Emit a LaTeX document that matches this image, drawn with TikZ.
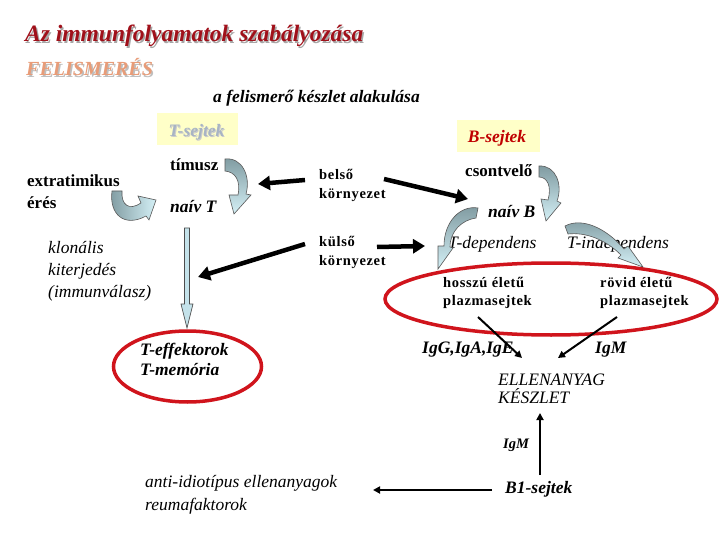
\documentclass[tikz,border=0pt]{standalone}
\usepackage{fontspec}
\setmainfont{Liberation Serif}
\usetikzlibrary{arrows.meta,shapes.geometric}
\definecolor{titlered}{HTML}{A0101A}
\definecolor{salmon}{HTML}{E89C78}
\definecolor{ellred}{HTML}{D0141C}
\definecolor{boxyel}{HTML}{FFFFC8}
\definecolor{tgrey}{HTML}{A8B4C4}
\definecolor{bred}{HTML}{C00000}
\definecolor{arrdark}{HTML}{7F9AA0}
\definecolor{arrlight}{HTML}{D4F0F6}
\definecolor{vblue}{HTML}{C4E2EA}
\begin{document}
\begin{tikzpicture}[x=1pt,y=-1pt,
  lbl/.style={inner sep=0pt, anchor=base west},
  bd/.style={lbl, font=\bfseries\fontsize{17}{20}\selectfont},
  bi/.style={lbl, font=\bfseries\itshape\fontsize{17.5}{20}\selectfont},
  itl/.style={lbl, font=\itshape\fontsize{17.5}{20}\selectfont},
  sp/.style={lbl, font=\addfontfeature{LetterSpace=4.5}\bfseries\fontsize{14.5}{17}\selectfont},
  fatarrow/.style={line width=4.5pt, -{Triangle[length=12pt,width=14pt]}},
  thinarrow/.style={line width=2pt, -{Triangle[length=7pt,width=7pt]}},
  ellipsebox/.style={ellipse, draw=ellred, line width=3.5pt, inner sep=0pt},
  curvy/.style={draw=black!65, line width=0.6pt, top color=arrdark, bottom color=arrlight},
  curvyh/.style={draw=black!65, line width=0.6pt, left color=arrdark, right color=arrlight},
  ybox/.style={fill=boxyel, inner sep=0pt},
]
\useasboundingbox (0,0) rectangle (720,540);
\fill[white] (0,0) rectangle (720,540);

% titles
\node[lbl, text=black!35, font=\bfseries\itshape\fontsize{23.5}{28}\selectfont] (titlesh) at (26.5,43.5) {Az immunfolyamatok szabályozása};
\node[lbl, text=titlered, font=\bfseries\itshape\fontsize{23.5}{28}\selectfont] (title) at (25,42) {Az immunfolyamatok szabályozása};
\node[lbl, text=black!25, font=\bfseries\itshape\fontsize{20}{24}\selectfont] (felsh) at (27.5,77.5) {FELISMERÉS};
\node[lbl, text=salmon, font=\bfseries\itshape\fontsize{20}{24}\selectfont] (fel) at (26,76) {FELISMERÉS};
\node[bi] (sub) at (213,103) {a felismerő készlet alakulása};

% boxes
\node[ybox, minimum width=81pt, minimum height=32pt] (tbox) at (197.5,129) {};
\node[lbl, anchor=base, text=black!20, font=\bfseries\itshape\fontsize{17.5}{20}\selectfont] (tsejsh) at (197.5,138) {T-sejtek};
\node[lbl, anchor=base, text=tgrey, font=\bfseries\itshape\fontsize{17.5}{20}\selectfont] (tsej) at (196.5,137) {T-sejtek};
\node[ybox, minimum width=83pt, minimum height=32pt] (bbox) at (498.5,136) {};
\node[lbl, anchor=base, text=bred, font=\bfseries\itshape\fontsize{17.5}{20}\selectfont] (bsej) at (497,143) {B-sejtek};

% T side labels
\node[bd] (timusz) at (170,171) {tímusz};
\node[bd] (extra1) at (27,187) {extratimikus};
\node[bd] (extra2) at (27,208) {érés};
\node[bi] (naivT) at (170,212) {naív T};
\node[itl] (klon1) at (48,253) {klonális};
\node[itl] (klon2) at (48,275) {kiterjedés};
\node[itl] (klon3) at (48,297) {(immunválasz)};

% environment labels
\node[sp] (bel1) at (319,180) {belső};
\node[sp] (bel2) at (319,199) {környezet};
\node[sp] (kul1) at (319,247) {külső};
\node[sp] (kul2) at (319,265) {környezet};

% B side labels
\node[bd] (csont) at (465,177) {csontvelő};
\node[bi] (naivB) at (488,218) {naív B};
\node[itl] (tdep) at (448,248) {T-dependens};
\node[itl] (tindep) at (567,248) {T-independens};

% plasma ellipse
\node[ellipsebox, minimum width=332pt, minimum height=72pt] (plell) at (551,299) {};
\node[sp] (hossz1) at (443,287) {hosszú életű};
\node[sp] (hossz2) at (443,305) {plazmasejtek};
\node[sp] (rov1) at (600,287) {rövid életű};
\node[sp] (rov2) at (600,305) {plazmasejtek};

\node[bi] (iggae) at (422,353) {IgG,IgA,IgE};
\node[bi] (igm1) at (595,353) {IgM};
\node[itl] (ell1) at (498,385) {ELLENANYAG};
\node[itl] (ell2) at (498,403) {KÉSZLET};
\node[lbl, font=\bfseries\itshape\fontsize{14.5}{16}\selectfont] (igm2) at (503,448) {IgM};
\node[bi] (b1) at (505,493) {B1-sejtek};
\node[itl] (anti1) at (145,487) {anti-idiotípus ellenanyagok};
\node[itl] (anti2) at (145,510) {reumafaktorok};

% T effector ellipse
\node[ellipsebox, minimum width=148pt, minimum height=71pt] (tell) at (187.5,366.5) {};
\node[bi] (teff1) at (140,355) {T-effektorok};
\node[bi] (teff2) at (140,375) {T-memória};

% coordinates for connector ends
\coordinate (belL) at (305,180);
\coordinate (belLend) at (258,184);
\coordinate (belR) at (384,179);
\coordinate (belRend) at (468,199);
\coordinate (kulL) at (305,244);
\coordinate (kulLend) at (198,277);
\coordinate (kulR) at (377,247);
\coordinate (kulRend) at (425,246);
\coordinate (hosszA) at (478,317);
\coordinate (ellA) at (522,358);
\coordinate (rovA) at (617,317);
\coordinate (ellB) at (558,358);
\coordinate (b1up) at (540,475);
\coordinate (ellC) at (540,413);
\coordinate (b1left) at (492,490);
\coordinate (antiR) at (373,490);

% thick black arrows
\draw[fatarrow] (belL) -- (belLend);
\draw[fatarrow] (kulL) -- (kulLend);
\draw[fatarrow] (belR) -- (belRend);
\draw[fatarrow] (kulR) -- (kulRend);

% thin arrows
\draw[thinarrow] (hosszA) -- (ellA);
\draw[thinarrow] (rovA) -- (ellB);
\draw[thinarrow] (b1up) -- (ellC);
\draw[thinarrow] (b1left) -- (antiR);

% vertical block arrow naiv T -> T effectors
\draw[draw=black!70, fill=vblue, line width=0.7pt]
  (184.5,228) -- (189.5,228) -- (189.5,304) -- (193,304) -- (187,328)
  -- (181,304) -- (184.5,304) -- cycle;

% curved block arrows
\draw[curvy] (225,159) .. controls (242,157) and (251,176) .. (246,194)
  -- (251,195) -- (234,214) -- (229,195) -- (238,195)
  .. controls (241,180) and (235,172) .. (225,171) -- cycle;
\draw[curvyh] (112,191) .. controls (109,214) and (124,228) .. (146,216)
  -- (149,220) -- (156,200) -- (138,196) -- (141,203)
  .. controls (129,211) and (121,205) .. (122,191) -- cycle;
\draw[curvy] (539,166) .. controls (556,165) and (563,185) .. (557,201)
  -- (561,203) -- (546,221) -- (541,199) -- (548,200)
  .. controls (552,186) and (547,177) .. (539,177) -- cycle;
\draw[curvy] (478,208) .. controls (460,205) and (444,222) .. (444,246)
  -- (438,246) -- (438,269) -- (453,248) -- (450,247)
  .. controls (450,231) and (462,220) .. (476,218) -- cycle;
\draw[curvy] (565,226) .. controls (582,217) and (606,228) .. (624,249)
  -- (628,246) -- (643,267) -- (618,258) -- (621,255)
  .. controls (605,239) and (585,232) .. (568,234) -- cycle;
\end{tikzpicture}
\end{document}
